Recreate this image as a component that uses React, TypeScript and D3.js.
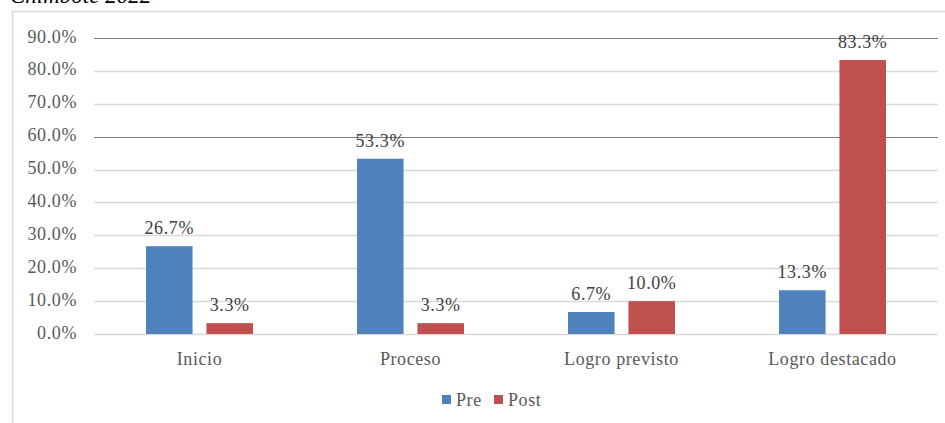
import React, { useEffect, useRef } from "react";
import * as d3 from "d3";

const categories = ["Inicio", "Proceso", "Logro previsto", "Logro destacado"];
const series = ["Pre", "Post"];
const preValues = [26.7, 53.3, 6.7, 13.3];
const postValues = [3.3, 3.3, 10.0, 83.3];
const yTicks = [0, 10, 20, 30, 40, 50, 60, 70, 80, 90];
const darkTicks = [60, 90];

const colors: Record<string, string> = { Pre: "#4F81BD", Post: "#C0504D" };
const font = "'Liberation Serif', 'Times New Roman', serif";
const fontSize = 18;
const spacing = "0.6px";

const App: React.FC = () => {
  const svgRef = useRef<SVGSVGElement | null>(null);

  useEffect(() => {
    if (!svgRef.current) return;
    const width = 945;
    const height = 423;
    const svg = d3.select(svgRef.current);
    svg.selectAll("*").remove();

    const left = 94;
    const right = 938;
    const top = 38;
    const bottom = 334;

    const x0 = d3.scaleBand<string>().domain(categories).range([left, right]);
    const x1 = d3
      .scaleBand<string>()
      .domain(series)
      .range([52, x0.bandwidth() - 52])
      .paddingInner(0.23);
    const y = d3.scaleLinear().domain([0, 90]).range([bottom, top]);

    // title (mostly clipped at the top)
    svg
      .append("text")
      .attr("x", 10)
      .attr("y", 3)
      .attr("font-family", font)
      .attr("font-style", "italic")
      .attr("font-size", 23)
      .attr("fill", "#000")
      .text("Chimbote 2022");

    // chart frame
    svg
      .append("path")
      .attr("d", `M12.5,${height}V11.5H${width}`)
      .attr("fill", "none")
      .attr("stroke", "#D9D9D9")
      .attr("stroke-width", 1.5);

    // gridlines
    svg
      .append("g")
      .selectAll("line")
      .data(yTicks)
      .enter()
      .append("line")
      .attr("x1", left)
      .attr("x2", right)
      .attr("y1", (d) => Math.round(y(d)) + 0.5)
      .attr("y2", (d) => Math.round(y(d)) + 0.5)
      .attr("stroke", (d) => (darkTicks.includes(d) ? "#7F7F7F" : "#D9D9D9"))
      .attr("stroke-width", (d) => (darkTicks.includes(d) ? 1.2 : 1.5));

    // y labels
    svg
      .append("g")
      .selectAll("text")
      .data(yTicks)
      .enter()
      .append("text")
      .attr("x", 77)
      .attr("y", (d) => y(d) + 4.5)
      .attr("text-anchor", "end")
      .attr("font-family", font)
      .attr("font-size", fontSize)
      .attr("letter-spacing", spacing)
      .attr("fill", "#595959")
      .text((d) => d.toFixed(1) + "%");

    const rows = categories.map((c, i) => ({
      cat: c,
      values: [
        { key: "Pre", value: preValues[i] },
        { key: "Post", value: postValues[i] },
      ],
    }));

    const groups = svg
      .append("g")
      .selectAll("g")
      .data(rows)
      .enter()
      .append("g")
      .attr("transform", (d) => `translate(${x0(d.cat)},0)`);

    groups
      .selectAll("rect")
      .data((d) => d.values)
      .enter()
      .append("rect")
      .attr("x", (d) => x1(d.key)!)
      .attr("width", x1.bandwidth())
      .attr("y", (d) => y(d.value))
      .attr("height", (d) => bottom - y(d.value))
      .attr("fill", (d) => colors[d.key]);

    groups
      .selectAll("text.val")
      .data((d) => d.values)
      .enter()
      .append("text")
      .attr("class", "val")
      .attr("x", (d) => x1(d.key)! + x1.bandwidth() / 2)
      .attr("y", (d) => y(d.value) - 12)
      .attr("text-anchor", "middle")
      .attr("font-family", font)
      .attr("font-size", fontSize)
      .attr("letter-spacing", spacing)
      .attr("fill", "#404040")
      .text((d) => d.value.toFixed(1) + "%");

    // category labels
    svg
      .append("g")
      .selectAll("text")
      .data(categories)
      .enter()
      .append("text")
      .attr("x", (d) => x0(d)! + x0.bandwidth() / 2)
      .attr("y", 365)
      .attr("text-anchor", "middle")
      .attr("font-family", font)
      .attr("font-size", fontSize)
      .attr("letter-spacing", spacing)
      .attr("fill", "#595959")
      .text((d) => d);

    // legend
    const legend = svg.append("g").attr("transform", "translate(442,400)");
    const legendX = [0, 52];
    series.forEach((s, i) => {
      const g = legend.append("g").attr("transform", `translate(${legendX[i]},0)`);
      g.append("rect")
        .attr("x", 0)
        .attr("y", -5)
        .attr("width", 9)
        .attr("height", 9)
        .attr("fill", colors[s]);
      g.append("text")
        .attr("x", 14)
        .attr("y", 6)
        .attr("font-family", font)
        .attr("font-size", fontSize)
        .attr("letter-spacing", spacing)
        .attr("fill", "#595959")
        .text(s);
    });
  }, []);

  return (
    <svg
      ref={svgRef}
      width={945}
      height={423}
      style={{ position: "absolute", left: 0, top: 0, background: "#fff" }}
    />
  );
};

export default App;
